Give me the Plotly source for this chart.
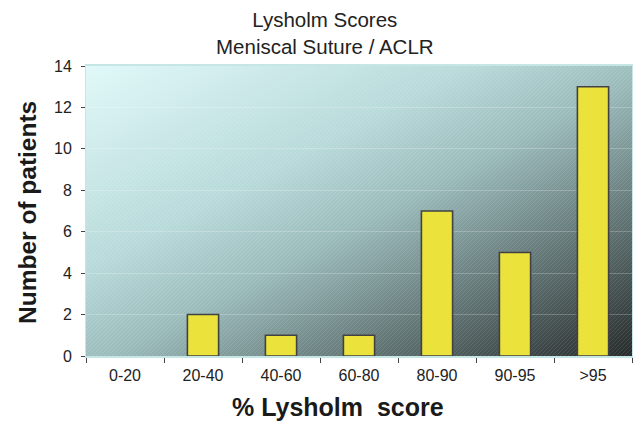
import base64
import plotly.graph_objects as go

categories = ["0-20", "20-40", "40-60", "60-80", "80-90", "90-95", ">95"]
patients = [0, 2, 1, 1, 7, 5, 13]
y_ticks = [0, 2, 4, 6, 8, 10, 12, 14]

title_lines = ["Lysholm Scores", "Meniscal Suture / ACLR"]
x_title = "% Lysholm  score"
y_title = "Number of patients"

W, H = 633, 425
ML, MR, MT, MB = 86, 1, 66, 69
PW = W - ML - MR

svg = (
    '<svg xmlns="http://www.w3.org/2000/svg" width="546" height="290" '
    'viewBox="0 0 546 290" preserveAspectRatio="none">'
    '<defs><linearGradient id="g" x1="0" y1="0" x2="1" y2="1">'
    '<stop offset="0" stop-color="#e0f8f8"/>'
    '<stop offset="0.35" stop-color="#b8dada"/>'
    '<stop offset="0.52" stop-color="#9cbcbc"/>'
    '<stop offset="0.75" stop-color="#637676"/>'
    '<stop offset="1" stop-color="#272b2b"/>'
    '</linearGradient>'
    '<pattern id="h" width="4" height="4" patternUnits="userSpaceOnUse">'
    '<path d="M0,4 L4,0" stroke="#ffffff" stroke-opacity="0.10" stroke-width="1"/>'
    '</pattern></defs>'
    '<rect x="0" y="0" width="546" height="290" fill="url(#g)"/>'
    '<rect x="0" y="0" width="546" height="290" fill="url(#h)"/></svg>'
)
svg_uri = "data:image/svg+xml;base64," + base64.b64encode(svg.encode()).decode()

font_family = "Liberation Sans, Arial, Helvetica, sans-serif"

fig = go.Figure(
    go.Bar(
        x=categories,
        y=patients,
        width=0.4,
        marker=dict(
            color="#ebe33c",
            line=dict(color="#424242", width=[0 if v == 0 else 1.6 for v in patients]),
        ),
    )
)

fig.update_layout(
    width=W,
    height=H,
    margin=dict(l=ML, r=MR, t=MT, b=MB),
    paper_bgcolor="white",
    plot_bgcolor="rgba(0,0,0,0)",
    showlegend=False,
    font=dict(family=font_family, color="#222222", size=16),
    images=[
        dict(
            source=svg_uri,
            xref="paper", yref="paper",
            x=0, y=1, sizex=1, sizey=1,
            xanchor="left", yanchor="top",
            sizing="stretch", layer="below",
        )
    ],
    annotations=[
        dict(
            text="<br>".join(title_lines),
            xref="paper", yref="paper",
            x=(325 - ML) / PW, y=1.0, yshift=6,
            xanchor="center", yanchor="bottom",
            showarrow=False,
            font=dict(size=20.5, color="#222222", family=font_family),
        ),
        dict(
            text="<b>" + x_title + "</b>",
            xref="paper", yref="paper",
            x=(338 - ML) / PW, y=0, yshift=-(407 - 356),
            xanchor="center", yanchor="middle",
            showarrow=False,
            font=dict(size=25, color="#1a1a1a", family=font_family),
        ),
        dict(
            text="<b>" + y_title + "</b>",
            xref="paper", yref="paper",
            x=0, xshift=-(ML - 27), y=0.5, yshift=-2,
            xanchor="center", yanchor="middle",
            textangle=-90,
            showarrow=False,
            font=dict(size=24.5, color="#1a1a1a", family=font_family),
        ),
    ],
)

fig.update_xaxes(
    type="category",
    range=[-0.5, 6.5],
    showline=True, linecolor="#c6e6e6", linewidth=2, mirror=True,
    showgrid=False,
    ticks="outside", tickson="boundaries", ticklen=5, tickcolor="#444444",
    ticklabelstandoff=4,
    tickfont=dict(size=16, color="#222222"),
)
fig.update_yaxes(
    range=[0, 14],
    tickvals=y_ticks,
    showline=True, linecolor="#c6e6e6", linewidth=1, mirror=True,
    showgrid=True, gridcolor="rgba(255,255,255,0.22)", gridwidth=1,
    zeroline=False,
    ticks="outside", ticklen=4, tickcolor="#444444",
    ticklabelstandoff=6,
    tickfont=dict(size=16, color="#222222"),
)

fig.write_html(
    "out.html",
    config={"responsive": False, "displayModeBar": False},
    post_script="document.body.style.margin='0';document.body.style.overflow='hidden';",
)
